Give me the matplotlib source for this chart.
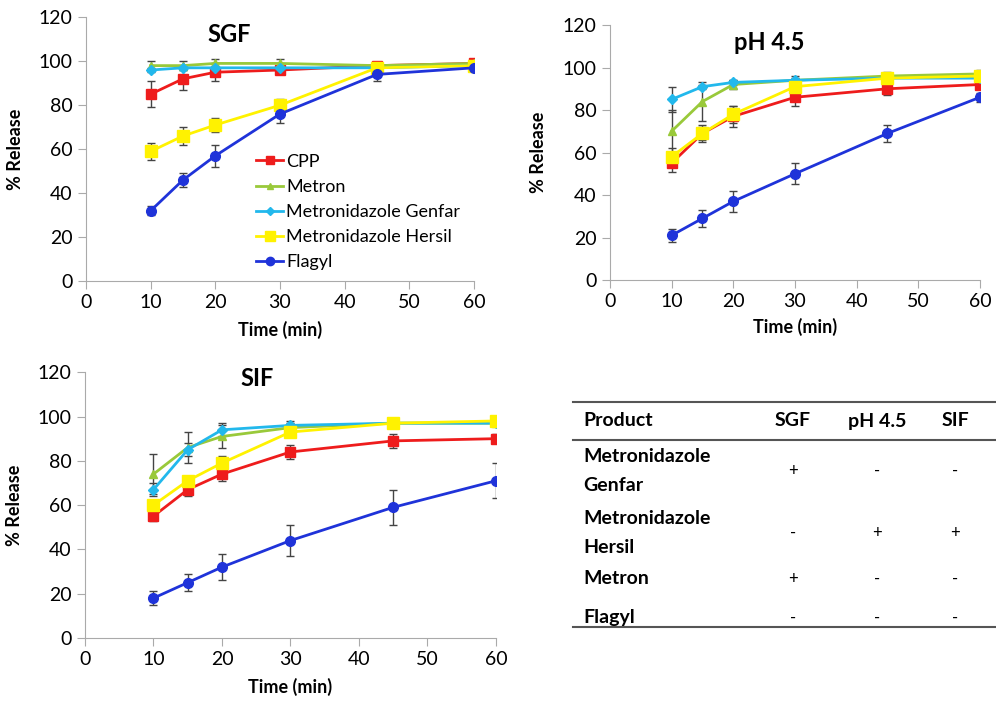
import numpy as np
import matplotlib
matplotlib.use('Agg')
from matplotlib import pyplot as plt
from matplotlib.lines import Line2D

plt.rcParams['font.family'] = ['Lato', 'DejaVu Sans']

# data
time_min = [10, 15, 20, 30, 45, 60]
products = ['CPP', 'Metron', 'Metronidazole Genfar', 'Metronidazole Hersil', 'Flagyl']

sgf = {
    'CPP': [85, 92, 95, 96, 98, 99],
    'Metron': [98, 98, 99, 99, 98, 99],
    'Metronidazole Genfar': [96, 97, 97, 97, 97, 98],
    'Metronidazole Hersil': [59, 66, 71, 80, 97, 98],
    'Flagyl': [32, 46, 57, 76, 94, 97],
}
sgf_err = {
    'CPP': [6, 5, 4, 2, 1, 1],
    'Metron': [2, 2, 2, 2, 1, 1],
    'Metronidazole Genfar': [1, 1, 1, 1, 1, 1],
    'Metronidazole Hersil': [4, 4, 3, 3, 1, 1],
    'Flagyl': [2, 3, 5, 4, 3, 1],
}
ph45 = {
    'CPP': [55, 69, 77, 86, 90, 92],
    'Metron': [70, 84, 92, 94, 96, 97],
    'Metronidazole Genfar': [85, 91, 93, 94, 95, 95],
    'Metronidazole Hersil': [58, 69, 78, 91, 95, 96],
    'Flagyl': [21, 29, 37, 50, 69, 86],
}
ph45_err = {
    'CPP': [4, 4, 5, 4, 3, 2],
    'Metron': [10, 9, 2, 2, 2, 2],
    'Metronidazole Genfar': [6, 1, 1, 1, 1, 1],
    'Metronidazole Hersil': [4, 3, 4, 3, 2, 2],
    'Flagyl': [3, 4, 5, 5, 4, 2],
}
sif = {
    'CPP': [55, 67, 74, 84, 89, 90],
    'Metron': [74, 86, 91, 95, 97, 97],
    'Metronidazole Genfar': [67, 85, 94, 96, 97, 97],
    'Metronidazole Hersil': [60, 71, 79, 93, 97, 98],
    'Flagyl': [18, 25, 32, 44, 59, 71],
}
sif_err = {
    'CPP': [2, 3, 3, 3, 3, 2],
    'Metron': [9, 7, 5, 2, 1, 1],
    'Metronidazole Genfar': [3, 3, 3, 2, 1, 1],
    'Metronidazole Hersil': [2, 2, 3, 2, 1, 1],
    'Flagyl': [3, 4, 6, 7, 8, 8],
}

table_cols = ['Product', 'SGF', 'pH 4.5', 'SIF']
table_rows = ['Metronidazole\nGenfar', 'Metronidazole\nHersil', 'Metron', 'Flagyl']
table_vals = [['+', '-', '-'], ['-', '+', '+'], ['+', '-', '-'], ['-', '-', '-']]

colors = {'CPP': '#EE1C1C', 'Metron': '#99C93A', 'Metronidazole Genfar': '#22B8EC',
          'Metronidazole Hersil': '#FFF200', 'Flagyl': '#1F33D9'}
markers = {'CPP': 's', 'Metron': '^', 'Metronidazole Genfar': 'D',
           'Metronidazole Hersil': 's', 'Flagyl': 'o'}
msizes = {'CPP': 7, 'Metron': 6, 'Metronidazole Genfar': 5, 'Metronidazole Hersil': 8, 'Flagyl': 7}

fig = plt.figure(figsize=(9.96, 7.03), dpi=100)


def panel(rect, data, err, title, title_xy, ylab_x, legend=False):
    ax = fig.add_axes(rect)
    for p in products:
        ax.errorbar(time_min, data[p], yerr=err[p], color=colors[p], marker=markers[p],
                    ms=msizes[p], lw=2, ecolor='#444444', elinewidth=1, capsize=3)
    ax.set_xlim(0, 60)
    ax.set_ylim(0, 120)
    ax.set_xticks(range(0, 61, 10))
    ax.set_yticks(range(0, 121, 20))
    for s in ['top', 'right']:
        ax.spines[s].set_visible(False)
    for s in ['left', 'bottom']:
        ax.spines[s].set_color('#AAAAAA')
    ax.tick_params(colors='#AAAAAA', labelcolor='black', labelsize=14, length=6)
    ax.set_xlabel('Time (min)', fontsize=13, fontweight='bold')
    ax.set_ylabel('% Release', fontsize=13, fontweight='bold')
    ax.yaxis.set_label_coords(ylab_x, 0.5)
    ax.xaxis.set_label_coords(0.5, -0.15)
    ax.text(title_xy[0], title_xy[1], title, transform=ax.transAxes, fontsize=17,
            fontweight='bold', ha='center', va='center')
    if legend:
        handles = [Line2D([], [], color=colors[p], marker=markers[p], ms=msizes[p] - 1, lw=2)
                   for p in products]
        ax.legend(handles, products, loc='upper left', bbox_to_anchor=(0.42, 0.51),
                  frameon=False, fontsize=13, handlelength=1.5, handletextpad=0.15,
                  borderaxespad=0, labelspacing=0.5)
    return ax


panel([0.0863, 0.600, 0.3896, 0.3755], sgf, sgf_err, 'SGF', (0.37, 0.935), -0.16, legend=True)
panel([0.6124, 0.6017, 0.3715, 0.3627], ph45, ph45_err, 'pH 4.5', (0.43, 0.93), -0.17)
panel([0.0853, 0.0925, 0.4127, 0.378], sif, sif_err, 'SIF', (0.42, 0.975), -0.15)

# table
x0, x1 = 573 / 996, 995 / 996
for yp, lw in [(402, 1.5), (440, 1.5), (627, 1.5)]:
    fig.add_artist(Line2D([x0, x1], [1 - yp / 703, 1 - yp / 703], color='#555555', lw=lw))

col_x = [583, 793, 877, 955]
fig.text(col_x[0] / 996, 1 - 421 / 703, table_cols[0], fontsize=14, fontweight='bold',
         ha='left', va='center')
for cx, c in zip(col_x[1:], table_cols[1:]):
    fig.text(cx / 996, 1 - 421 / 703, c, fontsize=14, fontweight='bold', ha='center', va='center')

row_y = [471, 533, 579, 618]
for ry, name, vals in zip(row_y, table_rows, table_vals):
    fig.text(col_x[0] / 996, 1 - ry / 703, name, fontsize=14, fontweight='bold',
             ha='left', va='center', linespacing=1.8)
    for cx, v in zip(col_x[1:], vals):
        fig.text(cx / 996, 1 - ry / 703, v, fontsize=12, ha='center', va='center')

fig.savefig('out.png', dpi=100)
